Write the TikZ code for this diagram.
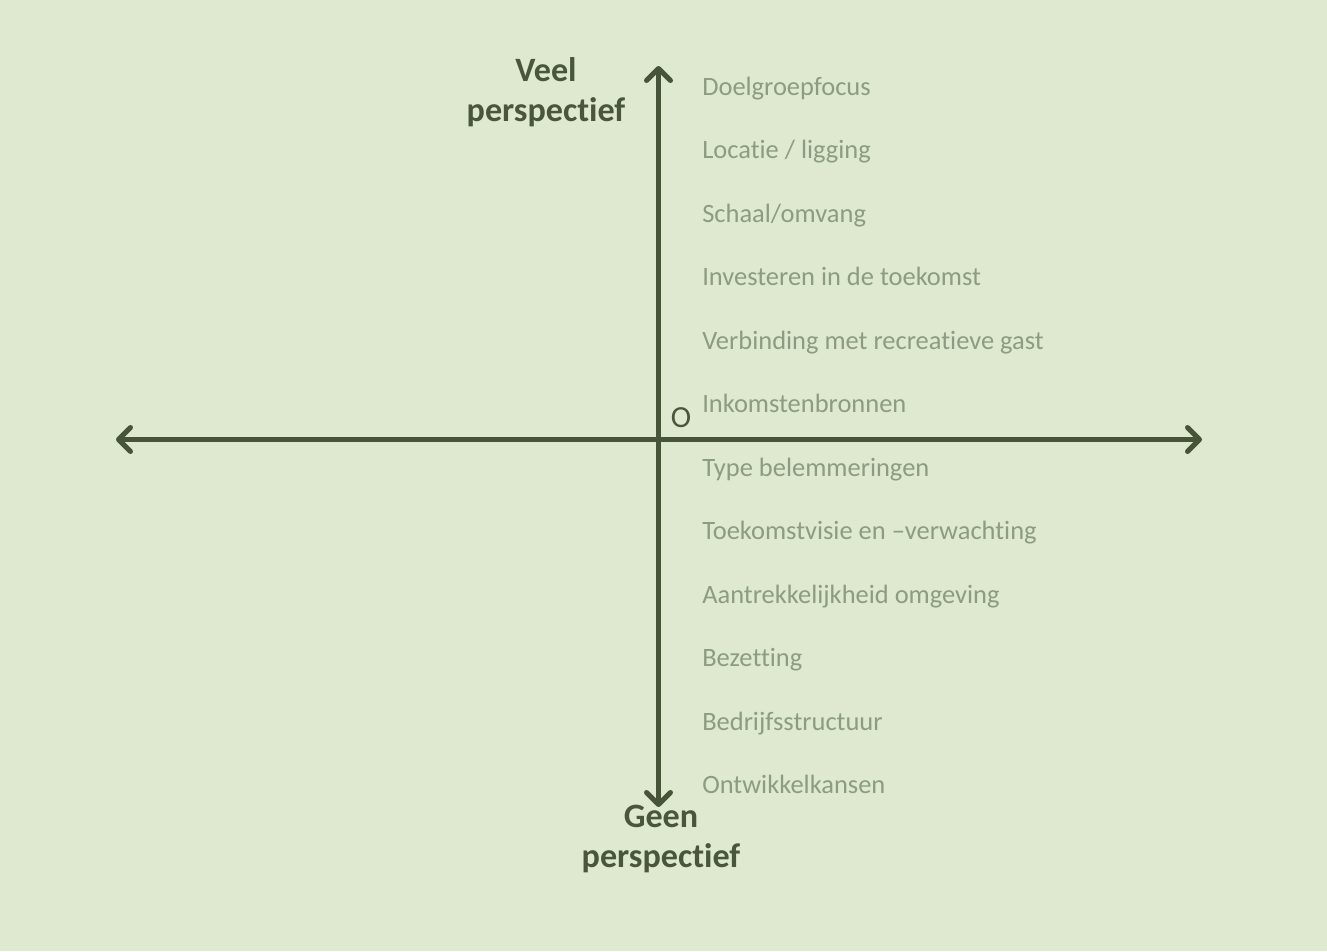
\documentclass[tikz,border=0pt]{standalone}
\usepackage{fontspec}
\setmainfont{Carlito}[Ligatures={NoCommon}]
\usetikzlibrary{arrows.meta}
\definecolor{bg}{HTML}{DEE9D0}
\definecolor{axis}{HTML}{475437}
\definecolor{item}{HTML}{8C9C80}
\definecolor{lab}{HTML}{4A5639}
\tikzset{
  axisline/.style={draw=axis, line width=3.75pt, -{Straight Barb[length=9pt,width=18pt,line cap=round,line join=round]}},
  itemtext/.style={anchor=base west, inner sep=0pt, text=item, font=\fontsize{19.85pt}{23pt}\selectfont},
  endlabel/.style={align=center, inner sep=0pt, text=lab, font=\fontsize{25.6pt}{30pt}\selectfont\bfseries},
}
\begin{document}
\begin{tikzpicture}[x=0.75pt,y=-0.75pt]
\useasboundingbox[fill=bg] (0,0) rectangle (1327,951);
\coordinate (origin) at (658.5,439.5);
\coordinate (top) at (658.5,66);
\coordinate (bottom) at (658.5,807);
\coordinate (left) at (116,439.5);
\coordinate (right) at (1202,439.5);
\draw[axisline] (origin) -- (top);
\draw[axisline] (origin) -- (bottom);
\draw[axisline] (origin) -- (left);
\draw[axisline] (origin) -- (right);
\node[endlabel] (veel) at (546,92.5) {Veel\\perspectief};
\node[endlabel] (geen) at (661,839) {Geen\\perspectief};
\node[anchor=base west, inner sep=0pt, text=lab, font=\fontsize{23pt}{26pt}\selectfont] (o) at (670.5,427) {O};
\node[itemtext] (i1) at (702,95) {Doelgroepfocus};
\node[itemtext] (i2) at (702,158.5) {Locatie / ligging};
\node[itemtext] (i3) at (702,222) {Schaal/omvang};
\node[itemtext] (i4) at (702,285.5) {Investeren in de toekomst};
\node[itemtext] (i5) at (702,349) {Verbinding met recreatieve gast};
\node[itemtext] (i6) at (702,412.5) {Inkomstenbronnen};
\node[itemtext] (i7) at (702,476) {Type belemmeringen};
\node[itemtext] (i8) at (702,539.5) {Toekomstvisie en –verwachting};
\node[itemtext] (i9) at (702,603) {Aantrekkelijkheid omgeving};
\node[itemtext] (i10) at (702,666.5) {Bezetting};
\node[itemtext] (i11) at (702,730) {Bedrijfsstructuur};
\node[itemtext] (i12) at (702,793.5) {Ontwikkelkansen};
\end{tikzpicture}
\end{document}
